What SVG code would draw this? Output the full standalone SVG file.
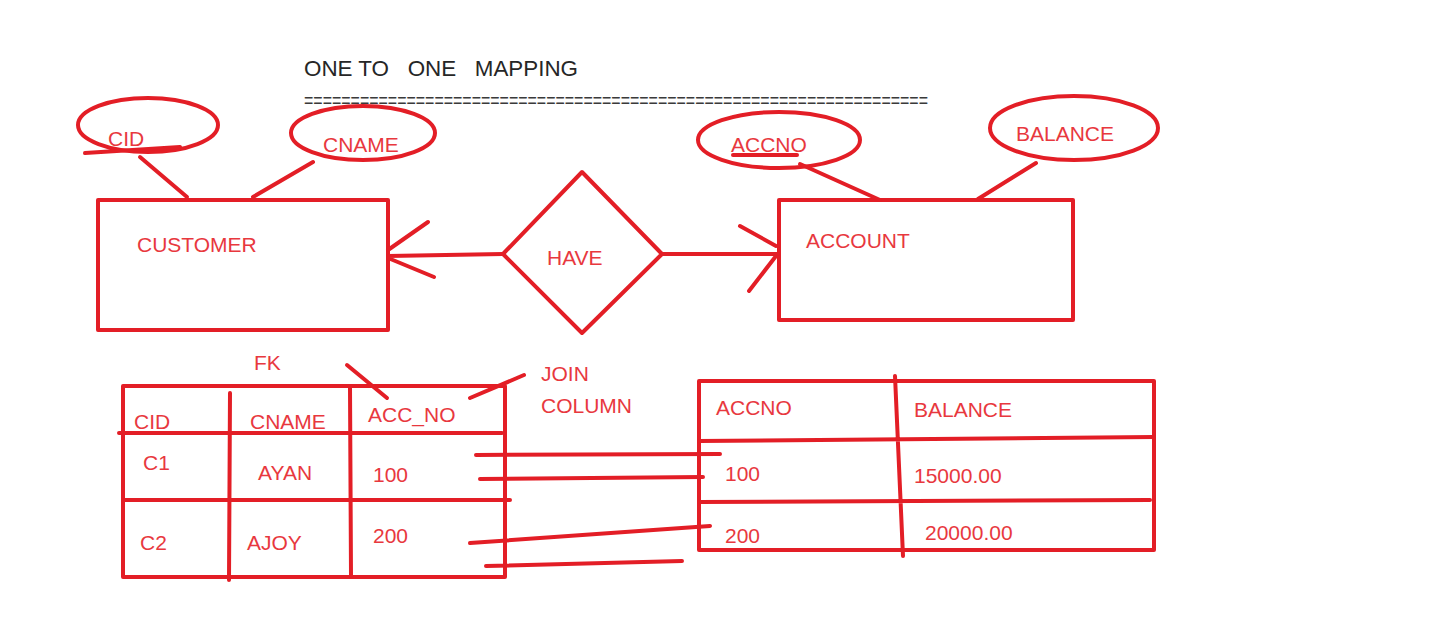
<svg xmlns="http://www.w3.org/2000/svg" width="1443" height="633" viewBox="0 0 1443 633">
<style>
.s{fill:none;stroke:#e31e26;stroke-width:4;stroke-linecap:round;stroke-linejoin:round}
.t{font-family:"Liberation Sans",Arial,sans-serif;font-size:21px;fill:#e8383e}
.k{font-family:"Liberation Sans",Arial,sans-serif;font-size:22px;fill:#262626}
</style>
<rect width="1443" height="633" fill="#ffffff"/>
<g id="title">
<text class="k" x="304" y="76" xml:space="preserve" textLength="274" lengthAdjust="spacingAndGlyphs">ONE TO   ONE   MAPPING</text>
<text class="k" x="304" y="108" style="fill:#3a3a3a" textLength="624" lengthAdjust="spacingAndGlyphs">===================================================================</text>
</g>
<g id="attr-cid">
<ellipse class="s" cx="148" cy="125" rx="70" ry="27"/>
<text class="t" x="108" y="146">CID</text>
<path class="s" d="M85 153 L180 147"/>
</g>
<g id="attr-cname">
<ellipse class="s" cx="363" cy="133" rx="72" ry="27"/>
<text class="t" x="323" y="152">CNAME</text>
</g>
<g id="customer">
<rect class="s" x="98" y="200" width="290" height="130"/>
<text class="t" x="137" y="252">CUSTOMER</text>
</g>
<g id="have">
<polygon class="s" points="582,172 662,254 582,333 503,254"/>
<text class="t" x="547" y="265">HAVE</text>
</g>
<g id="account">
<rect class="s" x="779" y="200" width="294" height="120"/>
<text class="t" x="806" y="248">ACCOUNT</text>
</g>
<g id="attr-accno">
<ellipse class="s" cx="779" cy="140" rx="81" ry="28"/>
<text class="t" x="731" y="152">ACCNO</text>
<path class="s" d="M733 155 L797 155"/>
</g>
<g id="attr-balance">
<ellipse class="s" cx="1074" cy="128" rx="84" ry="32"/>
<text class="t" x="1016" y="141">BALANCE</text>
</g>
<g id="customer-table">
<rect class="s" x="123" y="386" width="382" height="191"/>
<path class="s" d="M119 433 L502 433 M125 500 L510 500 M230 393 L229 580 M350 388 L351 575"/>
<text class="t" x="134" y="429">CID</text>
<text class="t" x="250" y="429">CNAME</text>
<text class="t" x="368" y="422">ACC_NO</text>
<text class="t" x="143" y="470">C1</text>
<text class="t" x="258" y="480">AYAN</text>
<text class="t" x="373" y="482">100</text>
<text class="t" x="140" y="550">C2</text>
<text class="t" x="247" y="550">AJOY</text>
<text class="t" x="373" y="543">200</text>
</g>
<g id="fk-label">
<text class="t" x="254" y="370">FK</text>
</g>
<g id="join-label">
<text class="t" x="541" y="381">JOIN</text>
<text class="t" x="541" y="413">COLUMN</text>
</g>
<g id="account-table">
<rect class="s" x="699" y="381" width="455" height="169"/>
<path class="s" d="M699 441 L1154 437 M699 502 L1150 500 M895 376 L903 556"/>
<text class="t" x="716" y="415">ACCNO</text>
<text class="t" x="914" y="417">BALANCE</text>
<text class="t" x="725" y="481">100</text>
<text class="t" x="914" y="483">15000.00</text>
<text class="t" x="725" y="543">200</text>
<text class="t" x="925" y="540">20000.00</text>
</g>
<g id="connectors">
<path class="s" d="M140 157 L187 197"/>
<path class="s" d="M313 162 L253 197"/>
<path class="s" d="M800 164 L880 200"/>
<path class="s" d="M1036 163 L978 199"/>
<path class="s" d="M503 254 L388 256 M428 222 L388 250 M388 258 L434 277"/>
<path class="s" d="M662 254 L778 254 M740 226 L776 246 M776 256 L749 291"/>
<path class="s" d="M347 365 L387 398"/>
<path class="s" d="M470 398 L524 375"/>
<path class="s" d="M476 455 L720 454"/>
<path class="s" d="M480 479 L703 477"/>
<path class="s" d="M470 543 L710 526"/>
<path class="s" d="M486 566 L682 561"/>
</g>
</svg>
